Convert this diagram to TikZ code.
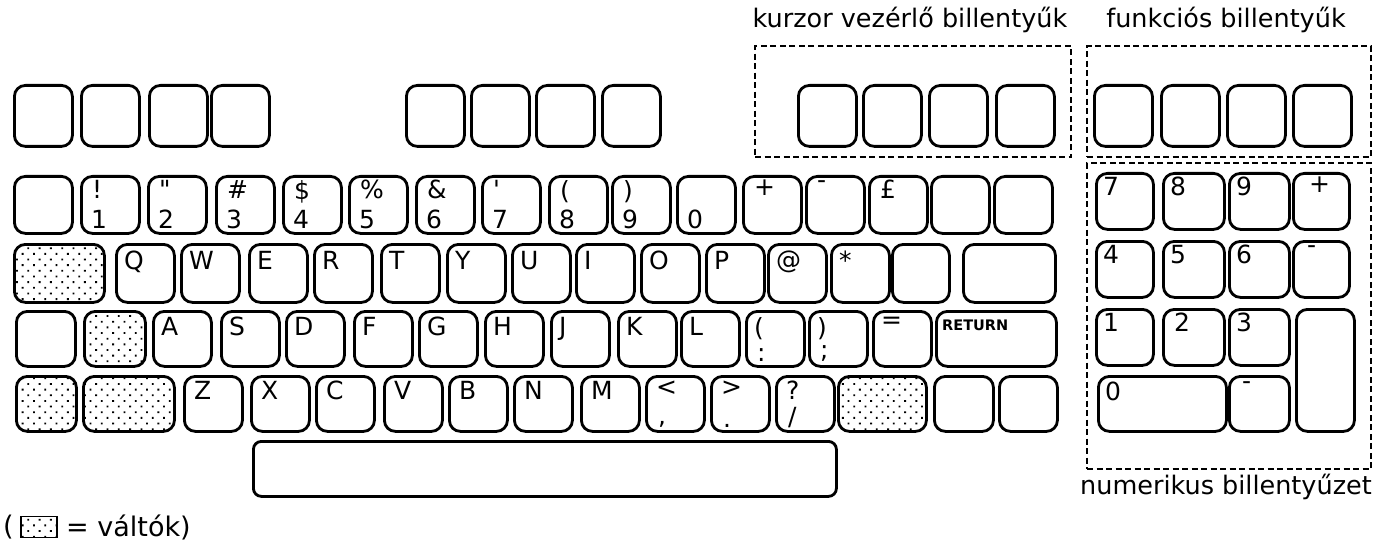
\documentclass[tikz,border=0pt]{standalone}
\usepackage{fontspec}
\setmainfont{DejaVu Sans}
\usetikzlibrary{patterns.meta}
\tikzset{
  x=1pt, y=-1pt,
  keyst/.style={draw, line width=2.8pt, rounded corners=11pt, inner sep=0pt, anchor=north west},
  shaded/.style={pattern={Dots[distance=8pt,radius=1.3pt,angle=45]}},
  tl/.style={anchor=north west, inner sep=0pt, font=\fontsize{25}{25}\selectfont},
  bl/.style={anchor=south west, inner sep=0pt, font=\fontsize{25}{25}\selectfont},
  dbox/.style={draw, line width=2.4pt, dash pattern=on 6pt off 3.5pt},
  title/.style={inner sep=0pt, font=\fontsize{25.5}{27}\selectfont}
}
\begin{document}
\begin{tikzpicture}
\useasboundingbox (0,0) rectangle (1375,548);
% titles and dashed groups
\node[title] (tcur) at (910,20) {kurzor vezérlő billentyűk};
\node[title] (tfun) at (1226,20) {funkciós billentyűk};
\node[title] (tnum) at (1226,487) {numerikus billentyűzet};
\node[dbox, inner sep=0pt, anchor=north west, minimum width=316pt, minimum height=111pt] (gcur) at (754,45) {};
\node[dbox, inner sep=0pt, anchor=north west, minimum width=284pt, minimum height=111pt] (gfun) at (1086,45) {};
\node[dbox, inner sep=0pt, anchor=north west, minimum width=284pt, minimum height=306pt] (gnum) at (1086,162) {};
% top row
\foreach \n/\x in {f1/13,f2/80,f3/148,f4/210,g1/405,g2/470,g3/535,g4/601,c1/797,c2/862,c3/928,c4/995,p1/1093,p2/1160,p3/1226,p4/1292}
  \node[keyst, minimum width=58pt, minimum height=61pt] (\n) at (\x,84) {};
% number row
\foreach \n/\x/\t/\b in {n0/13/{}/{}, n1/80/!/1, n2/147/\textquotedbl/2, n3/215/\#/3, n4/282/\$/4, n5/348/\%/5, n6/415/\&/6, n7/481/\textquotesingle/7, n8/548/(/8, n9/611/)/9, n10/676/{}/0, n11/742/+/{}, n12/805/-/{}, n13/868/£/{}, n14/930/{}/{}, n15/993/{}/{}}
{
  \node[keyst, minimum width=58pt, minimum height=57pt] (\n) at (\x,175) {};
  \node[tl] (\n-t) at ([shift={(12,5)}]\n.north west) {\t};
  \node[bl] (\n-b) at ([shift={(11,-6)}]\n.south west) {\b};
}
% qwerty row
\node[keyst, shaded, minimum width=90pt, minimum height=58pt] (q0) at (13,243) {};
\foreach \n/\x/\t in {q1/115/Q, q2/180/W, q3/248/E, q4/313/R, q5/380/T, q6/446/Y, q7/511/U, q8/575/I, q9/640/O, q10/705/P, q11/767/@, q12/830/*}
{
  \node[keyst, minimum width=58pt, minimum height=58pt] (\n) at (\x,243) {};
  \node[tl] (\n-t) at ([shift={(9,8)}]\n.north west) {\t};
}
\node[keyst, minimum width=57pt, minimum height=58pt] (q13) at (891,243) {};
\node[keyst, minimum width=92pt, minimum height=58pt] (q14) at (962,243) {};
% asdf row
\node[keyst, minimum width=59pt, minimum height=55pt] (a0) at (15,310) {};
\node[keyst, shaded, minimum width=61pt, minimum height=55pt] (a1) at (83,310) {};
\foreach \n/\x/\t/\b in {a2/152/A/{}, a3/220/S/{}, a4/285/D/{}, a5/353/F/{}, a6/418/G/{}, a7/484/H/{}, a8/550/J/{}, a9/617/K/{}, a10/680/L/{}, a11/745/(/:, a12/808/)/;, a13/872/=/{}}
{
  \node[keyst, minimum width=58pt, minimum height=55pt] (\n) at (\x,310) {};
  \node[tl] (\n-t) at ([shift={(9,7)}]\n.north west) {\t};
  \node[bl] (\n-b) at ([shift={(12,-6)}]\n.south west) {\b};
}
\node[keyst, minimum width=120pt, minimum height=55pt] (a14) at (935,310) {};
\node[tl, font=\fontsize{14.5}{14.5}\selectfont\bfseries] (a14-t) at ([shift={(7,10)}]a14.north west) {RETURN};
% zxcv row
\node[keyst, shaded, minimum width=60pt, minimum height=55pt] (z0) at (15,375) {};
\node[keyst, shaded, minimum width=91pt, minimum height=55pt] (z1) at (82,375) {};
\foreach \n/\x/\t/\b in {z2/183/Z/{}, z3/250/X/{}, z4/315/C/{}, z5/383/V/{}, z6/448/B/{}, z7/513/N/{}, z8/580/M/{}, z9/645/</{,}, z10/710/>/., z11/775/?/{/}}
{
  \node[keyst, minimum width=58pt, minimum height=55pt] (\n) at (\x,375) {};
  \node[tl] (\n-t) at ([shift={(11,6)}]\n.north west) {\t};
  \node[bl] (\n-b) at ([shift={(13,-5)}]\n.south west) {\b};
}
\node[keyst, shaded, minimum width=88pt, minimum height=55pt] (z12) at (837,375) {};
\node[keyst, minimum width=59pt, minimum height=55pt] (z13) at (933,375) {};
\node[keyst, minimum width=58pt, minimum height=55pt] (z14) at (998,375) {};
% space bar
\node[keyst, rounded corners=8pt, minimum width=583pt, minimum height=55pt] (space) at (252,440) {};
% numeric keypad
\foreach \n/\x/\y/\w/\dx/\t in {k7/1095/172/57/8/7, k8/1162/172/61/8/8, k9/1228/172/60/8/9, kp/1292/172/56/17/+,
  k4/1095/240/57/8/4, k5/1162/240/61/8/5, k6/1228/240/60/8/6, km/1292/240/56/15/-,
  k1/1095/308/57/8/1, k2/1162/308/61/12/2, k3/1228/308/60/8/3}
{
  \node[keyst, minimum width=\w pt, minimum height=56pt] (\n) at (\x,\y) {};
  \node[tl] (\n-t) at ([shift={(\dx,5)}]\n.north west) {\t};
}
\node[keyst, minimum width=58pt, minimum height=122pt] (kent) at (1295,308) {};
\node[keyst, minimum width=128pt, minimum height=55pt] (k0) at (1097,375) {};
\node[tl] (k0-t) at ([shift={(8,7)}]k0.north west) {0};
\node[keyst, minimum width=60pt, minimum height=55pt] (kdot) at (1228,375) {};
\node[tl] (kdot-t) at ([shift={(14,6)}]kdot.north west) {-};
% legend
\node[anchor=west, inner sep=0pt, font=\fontsize{27}{27}\selectfont] (lopen) at (3,527) {(};
\node[draw, line width=1.8pt, shaded, inner sep=0pt, anchor=west, minimum width=36pt, minimum height=21pt] (lbox) at (20,527) {};
\node[anchor=west, inner sep=0pt, font=\fontsize{27}{27}\selectfont] (ltext) at (66,527) {= váltók)};
\end{tikzpicture}
\end{document}
